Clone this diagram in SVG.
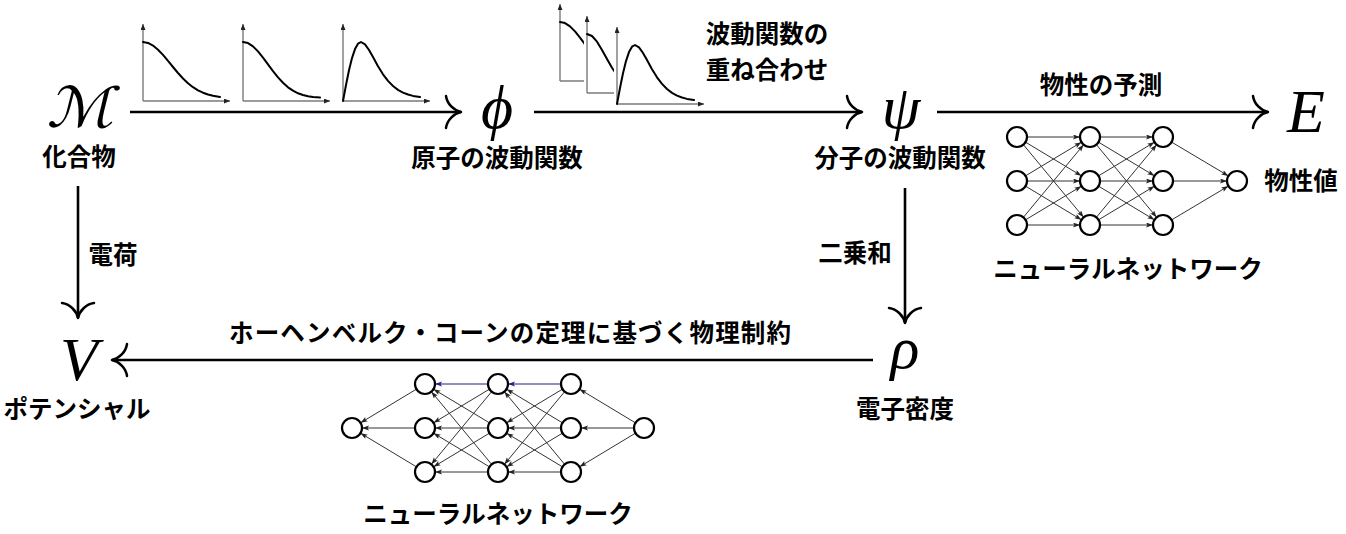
<svg xmlns="http://www.w3.org/2000/svg" xmlns:xlink="http://www.w3.org/1999/xlink" width="1346" height="534" viewBox="0 0 1346 534">
<style>
.jp{font-family:"Noto Sans CJK JP","Noto Sans CJK SC",sans-serif;font-weight:700;font-size:24.5px;fill:#000;text-anchor:middle}
.math{font-family:"Liberation Serif","DejaVu Serif",serif;font-style:italic;fill:#000;text-anchor:middle}
.cal{font-family:"DejaVu Sans",sans-serif;fill:#000;text-anchor:middle}
.main{stroke:#000;stroke-width:2.6;fill:none;marker-end:url(#hook)}
.ax{stroke:#7a7a7a;stroke-width:1.4;fill:none;marker-end:url(#axh)}
.cv{stroke:#000;stroke-width:2;fill:none;stroke-linejoin:round;stroke-linecap:round}
.e{stroke:#333;stroke-width:1;fill:none;marker-end:url(#sm)}
.eb{stroke:#22227a;stroke-width:1.2;fill:none;marker-end:url(#smb)}
.n{fill:#fff;stroke:#000;stroke-width:2.2}
</style>
<defs>
<marker id="hook" markerUnits="userSpaceOnUse" markerWidth="40" markerHeight="40" refX="20" refY="20" orient="auto" overflow="visible">
<path d="M5,4 C6,12 13,18.5 20,20 M5,36 C6,28 13,21.5 20,20" fill="none" stroke="#000" stroke-width="2.5" stroke-linecap="round"/>
</marker>
<marker id="axh" markerUnits="userSpaceOnUse" markerWidth="8" markerHeight="6" refX="6" refY="2.5" orient="auto">
<path d="M0,0 L6,2.5 L0,5 Z" fill="#222"/>
</marker>
<marker id="sm" markerUnits="userSpaceOnUse" markerWidth="8" markerHeight="6" refX="7" refY="2.5" orient="auto">
<path d="M0,0 L7,2.5 L0,5 L1.5,2.5 Z" fill="#222"/>
</marker>
<marker id="smb" markerUnits="userSpaceOnUse" markerWidth="8" markerHeight="6" refX="7" refY="2.5" orient="auto">
<path d="M0,0 L7,2.5 L0,5 L1.5,2.5 Z" fill="#22227a"/>
</marker>
<g id="axes">
<path class="ax" d="M0,0 V-77"/>
<path class="ax" d="M0,0 H87"/>
</g>
<path id="c1" class="cv" d="M0,-59 L5,-58.1 L10,-55.4 L15,-51.3 L20,-46.1 L25,-40.1 L30,-34 L35,-28 L40,-22.5 L45,-17.8 L50,-13.8 L55,-10.7 L60,-8.3 L65,-6.5 L70,-5.2 L77,-4.1"/>
<path id="c2" class="cv" d="M0,-59 L5,-57.9 L10,-54.6 L15,-49.6 L20,-43.4 L25,-36.6 L30,-29.9 L35,-23.6 L40,-18.2 L45,-13.7 L50,-10.3 L55,-7.7 L60,-6 L65,-4.8 L70,-4 L77,-3.4"/>
<path id="c3" class="cv" d="M0,0 L3,-16 L6,-30.7 L9,-42.9 L12,-51.9 L15,-57.3 L18,-59 L22,-56.6 L26,-51 L30,-43.9 L35,-34.8 L40,-26.7 L45,-20.1 L50,-15 L55,-11.1 L60,-8.4 L65,-6.5 L70,-5.1 L77,-4"/>
<path id="c4" class="cv" d="M0,-59 L5,-57 L10,-51.3 L15,-43.1 L20,-34 L25,-25.2 L30,-17.8 L35,-12.2 L40,-8.4"/>
</defs>

<g id="plots-atomic">
<g transform="translate(143,101)"><use xlink:href="#axes" href="#axes"/><use xlink:href="#c1" href="#c1"/></g>
<g transform="translate(243,101)"><use xlink:href="#axes" href="#axes"/><use xlink:href="#c2" href="#c2"/></g>
<g transform="translate(343,101)"><use xlink:href="#axes" href="#axes"/><use xlink:href="#c3" href="#c3"/></g>
</g>
<g id="plots-overlap">
<g transform="translate(560,81)"><use xlink:href="#axes" href="#axes"/><use xlink:href="#c2" href="#c2"/></g>
<g transform="translate(587,93)"><rect x="-3" y="-82" width="92" height="85" fill="#fff"/><use xlink:href="#axes" href="#axes"/><use xlink:href="#c4" href="#c4"/></g>
<g transform="translate(617,104)"><rect x="-3" y="-82" width="91" height="85" fill="#fff"/><use xlink:href="#axes" href="#axes"/><use xlink:href="#c3" href="#c3"/></g>
</g>

<g id="connectors">
<path class="main" d="M130,112 H461"/>
<path class="main" d="M534,112 H862"/>
<path class="main" d="M937,112 H1268"/>
<path class="main" d="M78,186 V318"/>
<path class="main" d="M905,188 V323"/>
<path class="main" d="M873,360 H112"/>
</g>

<g id="node-M"><g transform="translate(80,127) skewX(-14) scale(1.12,1)"><text class="cal" x="0" y="0" font-size="56">ℳ</text></g><text class="jp" x="79" y="166">化合物</text></g>
<g id="node-phi"><text class="math" x="497" y="128" font-size="62">ϕ</text><text class="jp" x="497" y="167">原子の波動関数</text></g>
<g id="node-psi"><text class="math" x="901" y="128" font-size="62">ψ</text><text class="jp" x="900" y="167">分子の波動関数</text></g>
<g id="node-E"><text class="math" x="1306" y="132" font-size="62">E</text><text class="jp" x="1301" y="190">物性値</text></g>
<g id="node-V"><text class="math" x="79" y="380" font-size="62">V</text><text class="jp" x="77" y="418">ポテンシャル</text></g>
<g id="node-rho"><text class="math" x="905" y="368" font-size="60">ρ</text><text class="jp" x="905" y="418">電子密度</text></g>

<g id="labels">
<text class="jp" x="767" y="43">波動関数の</text>
<text class="jp" x="767" y="79">重ね合わせ</text>
<text class="jp" x="1101" y="94">物性の予測</text>
<text class="jp" x="113" y="264">電荷</text>
<text class="jp" x="855" y="262">二乗和</text>
<text class="jp" x="510" y="342" textLength="562" lengthAdjust="spacing">ホーヘンベルク・コーンの定理に基づく物理制約</text>
</g>

<g id="nn-property">
<g id="nn-property-edges">
<path class="e" d="M1027,137 H1080"/>
<path class="e" d="M1027,181 H1080"/>
<path class="e" d="M1027,225 H1080"/>
<path class="e" d="M1025.6,142.2 L1081.4,175.8"/>
<path class="e" d="M1025.6,186.2 L1081.4,219.8"/>
<path class="e" d="M1025.6,175.8 L1081.4,142.2"/>
<path class="e" d="M1025.6,219.8 L1081.4,186.2"/>
<path class="e" d="M1023.4,144.7 L1083.6,217.3"/>
<path class="e" d="M1023.4,217.3 L1083.6,144.7"/>
<path class="e" d="M1100,137 H1153"/>
<path class="e" d="M1100,181 H1153"/>
<path class="e" d="M1100,225 H1153"/>
<path class="e" d="M1098.6,142.2 L1154.4,175.8"/>
<path class="e" d="M1098.6,186.2 L1154.4,219.8"/>
<path class="e" d="M1098.6,175.8 L1154.4,142.2"/>
<path class="e" d="M1098.6,219.8 L1154.4,186.2"/>
<path class="e" d="M1096.4,144.7 L1156.6,217.3"/>
<path class="e" d="M1096.4,217.3 L1156.6,144.7"/>
<path class="e" d="M1171.6,142.1 L1228.4,175.9"/>
<path class="e" d="M1173,181 H1227"/>
<path class="e" d="M1171.6,219.9 L1228.4,186.1"/>
</g>
<circle class="n" cx="1017" cy="137" r="10"/><circle class="n" cx="1017" cy="181" r="10"/><circle class="n" cx="1017" cy="225" r="10"/>
<circle class="n" cx="1090" cy="137" r="10"/><circle class="n" cx="1090" cy="181" r="10"/><circle class="n" cx="1090" cy="225" r="10"/>
<circle class="n" cx="1163" cy="137" r="10"/><circle class="n" cx="1163" cy="181" r="10"/><circle class="n" cx="1163" cy="225" r="10"/>
<circle class="n" cx="1237" cy="181" r="10"/>
<text class="jp" x="1128" y="278">ニューラルネットワーク</text>
</g>

<g id="nn-constraint">
<g id="nn-constraint-edges">
<path class="e" d="M634,428 H581"/>
<path class="e" d="M635.4,422.8 L579.6,389.2"/>
<path class="e" d="M635.4,433.2 L579.6,466.8"/>
<path class="eb" d="M561,384 H508"/>
<path class="e" d="M561,428 H508"/>
<path class="e" d="M561,472 H508"/>
<path class="e" d="M562.4,389.2 L506.6,422.8"/>
<path class="e" d="M562.4,433.2 L506.6,466.8"/>
<path class="e" d="M562.4,422.8 L506.6,389.2"/>
<path class="e" d="M562.4,466.8 L506.6,433.2"/>
<path class="e" d="M564.6,391.7 L504.4,464.3"/>
<path class="e" d="M564.6,464.3 L504.4,391.7"/>
<path class="eb" d="M488,384 H435"/>
<path class="e" d="M488,428 H435"/>
<path class="e" d="M488,472 H435"/>
<path class="e" d="M489.4,389.2 L433.6,422.8"/>
<path class="e" d="M489.4,433.2 L433.6,466.8"/>
<path class="e" d="M489.4,422.8 L433.6,389.2"/>
<path class="e" d="M489.4,466.8 L433.6,433.2"/>
<path class="e" d="M491.6,391.7 L431.4,464.3"/>
<path class="e" d="M491.6,464.3 L431.4,391.7"/>
<path class="e" d="M416.4,389.2 L360.6,422.8"/>
<path class="e" d="M415,428 H362"/>
<path class="e" d="M416.4,466.8 L360.6,433.2"/>
</g>
<circle class="n" cx="352" cy="428" r="10"/>
<circle class="n" cx="425" cy="384" r="10"/><circle class="n" cx="425" cy="428" r="10"/><circle class="n" cx="425" cy="472" r="10"/>
<circle class="n" cx="498" cy="384" r="10"/><circle class="n" cx="498" cy="428" r="10"/><circle class="n" cx="498" cy="472" r="10"/>
<circle class="n" cx="571" cy="384" r="10"/><circle class="n" cx="571" cy="428" r="10"/><circle class="n" cx="571" cy="472" r="10"/>
<circle class="n" cx="644" cy="428" r="10"/>
<text class="jp" x="498" y="523">ニューラルネットワーク</text>
</g>
</svg>
